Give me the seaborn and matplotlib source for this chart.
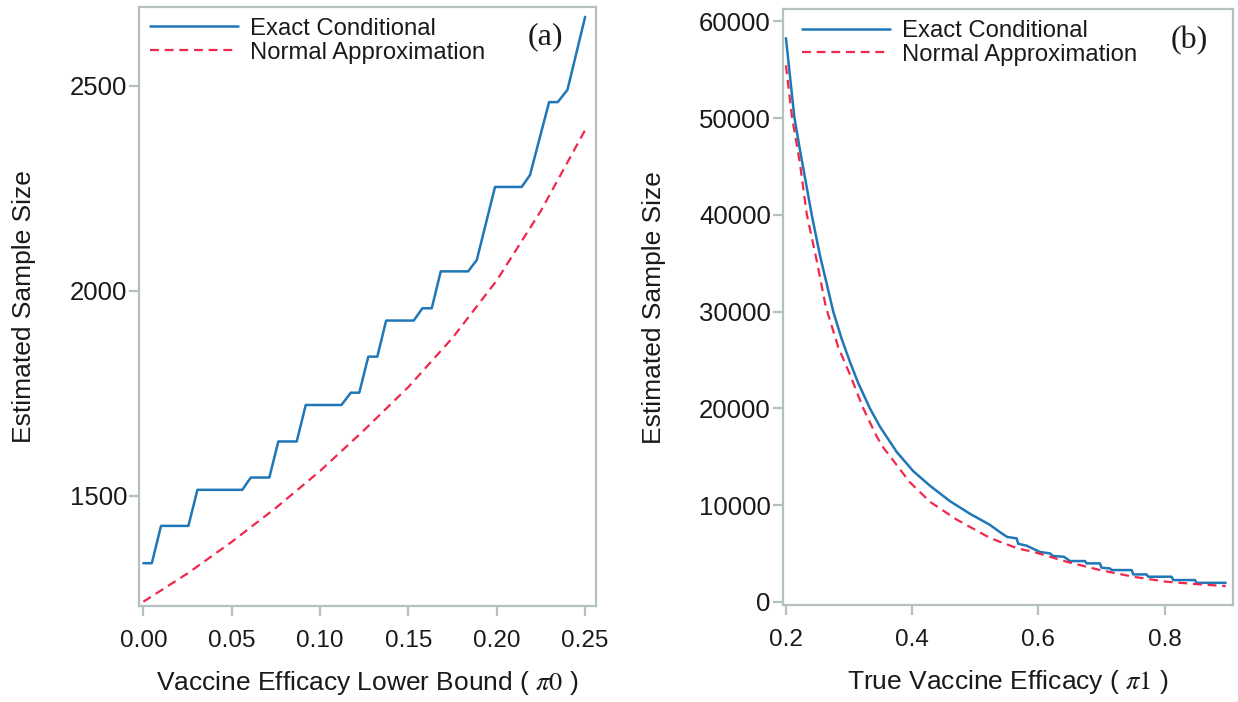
import matplotlib
matplotlib.use('Agg')
import matplotlib.pyplot as plt
import seaborn as sns


# Panel (a): sample size against lower bound pi0
pi0_exact = [0.0, 0.0048, 0.0100, 0.0255, 0.0306, 0.0560, 0.0608, 0.0713,
             0.0764, 0.0868, 0.0919, 0.1121, 0.1174, 0.1222, 0.1273, 0.1324,
             0.1374, 0.1530, 0.1579, 0.1632, 0.1683, 0.1838, 0.1887, 0.1990,
             0.2141, 0.2188, 0.2296, 0.2345, 0.2400, 0.2500]
n_exact_a = [1335, 1335, 1426, 1426, 1514, 1514, 1544, 1544, 1632, 1632,
             1721, 1721, 1751, 1751, 1839, 1839, 1927, 1927, 1957, 1957,
             2047, 2047, 2075, 2253, 2253, 2282, 2460, 2460, 2490, 2668]
pi0_norm = [0.0, 0.025, 0.05, 0.075, 0.10, 0.125, 0.15, 0.175, 0.20, 0.225, 0.25]
n_norm_a = [1241, 1310, 1387, 1470, 1560, 1660, 1765, 1885, 2025, 2195, 2392]

# Panel (b): sample size against true efficacy pi1
pi1_exact = [0.2000, 0.2132, 0.2222, 0.2328, 0.2407, 0.2539, 0.2645, 0.2750,
             0.2882, 0.3014, 0.3146, 0.3330, 0.3490, 0.3754, 0.4018, 0.4282,
             0.4600, 0.4916, 0.5233, 0.5391, 0.5507, 0.5656, 0.5681, 0.5814,
             0.6025, 0.6184, 0.6236, 0.6406, 0.6501, 0.6739, 0.6765, 0.6976,
             0.7003, 0.7135, 0.7162, 0.7479, 0.7504, 0.7716, 0.7742, 0.8112,
             0.8138, 0.8482, 0.8509, 0.8969]
n_exact_b = [58260, 50155, 46700, 42900, 40060, 35800, 32900, 30000,
             27200, 24800, 22600, 20000, 18100, 15500, 13500, 12000,
             10400, 9100, 7950, 7200, 6700, 6556, 6000, 5800,
             5150, 5000, 4725, 4655, 4210, 4210, 3970, 3970,
             3520, 3450, 3280, 3280, 2830, 2830, 2590, 2590,
             2245, 2245, 1960, 1960]
pi1_norm = [0.2000, 0.2095, 0.2222, 0.2330, 0.2487, 0.2631, 0.2830, 0.3014,
            0.3225, 0.3437, 0.3542, 0.3859, 0.3965, 0.4282, 0.4705, 0.5233,
            0.5391, 0.5680, 0.5919, 0.6448, 0.6976, 0.7504, 0.8033, 0.8560,
            0.8970]
n_norm_b = [55450, 50155, 45300, 40060, 35300, 30500, 26300, 23500,
            20000, 17100, 15950, 13250, 12350, 10340, 8500, 6600,
            6205, 5500, 5170, 4140, 3280, 2590, 2070, 1800,
            1620]

labels = ['Exact Conditional', 'Normal Approximation']
blue = '#1f77b8'
red = '#f0284c'
frame = '#b4c0c2'
ink = '#1a1a1a'

sns.set_theme(style='ticks')
plt.rcParams['font.family'] = ['Liberation Sans', 'DejaVu Sans']
plt.rcParams['mathtext.fontset'] = 'stix'

fig = plt.figure(figsize=(12.38, 7.02), dpi=100)
ax_a = fig.add_axes([0.1125, 0.137, 0.369, 0.853])
ax_b = fig.add_axes([0.6322, 0.138, 0.364, 0.849])


def draw(ax, x_ex, y_ex, x_no, y_no, leg_x):
    sns.lineplot(x=x_ex, y=y_ex, ax=ax, color=blue, lw=1.8,
                 label=labels[0], sort=False)
    sns.lineplot(x=x_no, y=y_no, ax=ax, color=red, lw=1.6,
                 linestyle=(0, (4, 2.6)), label=labels[1], sort=False)
    for s in ax.spines.values():
        s.set_color(frame)
        s.set_linewidth(1.6)
    ax.tick_params(colors=frame, width=1.6, length=7, labelcolor=ink)
    ax.tick_params(axis='y', pad=1.5, labelsize=18.5)
    ax.tick_params(axis='x', pad=10.5, labelsize=17.5)
    leg = ax.legend(loc='upper left', bbox_to_anchor=(leg_x, 1.0),
                    frameon=False, fontsize=17.2, handlelength=3.7,
                    handletextpad=0.5, labelspacing=0.08, borderaxespad=0.05)
    for t in leg.get_texts():
        t.set_color(ink)
    ax.set_ylabel('Estimated Sample Size', fontsize=19, color=ink)


draw(ax_a, pi0_exact, n_exact_a, pi0_norm, n_norm_a, 0.0)
ax_a.set_xlim(-0.0023, 0.2562)
ax_a.set_ylim(1231, 2692)
ax_a.set_xticks([0.0, 0.05, 0.10, 0.15, 0.20, 0.25])
ax_a.set_xticklabels(['0.00', '0.05', '0.10', '0.15', '0.20', '0.25'])
ax_a.set_yticks([1500, 2000, 2500])
ax_a.set_xlabel(r'Vaccine Efficacy Lower Bound ( $\mathit{\pi0}$ )',
                fontsize=19, color=ink)
ax_a.xaxis.set_label_coords(0.5, -0.105)
ax_a.yaxis.set_label_coords(-0.225, 0.5)
ax_a.text(0.89, 0.951, '(a)', transform=ax_a.transAxes, ha='center',
          va='center', fontsize=23, family='Liberation Serif', color=ink)

draw(ax_b, pi1_exact, n_exact_b, pi1_norm, n_norm_b, 0.018)
ax_b.set_xlim(0.1948, 0.909)
ax_b.set_ylim(-345, 61260)
ax_b.set_xticks([0.2, 0.4, 0.6, 0.8])
ax_b.set_yticks(range(0, 60001, 10000))
ax_b.set_xlabel(r'True Vaccine Efficacy ( $\mathit{\pi1}$ )',
                fontsize=19, color=ink)
ax_b.xaxis.set_label_coords(0.5, -0.106)
ax_b.yaxis.set_label_coords(-0.258, 0.5)
ax_b.text(0.903, 0.948, '(b)', transform=ax_b.transAxes, ha='center',
          va='center', fontsize=23, family='Liberation Serif', color=ink)

fig.savefig('out.png', dpi=100)
